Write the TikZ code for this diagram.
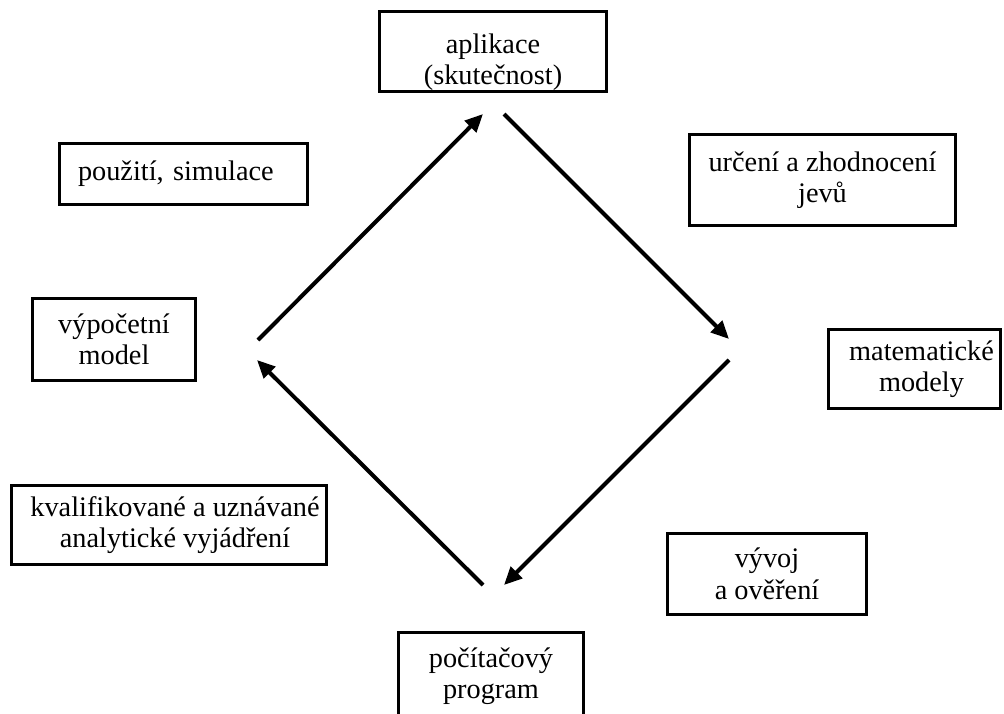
\documentclass[tikz,border=0pt]{standalone}
\usepackage{fontspec}
\setmainfont{Liberation Serif}
\usetikzlibrary{arrows.meta}
\begin{document}
\begin{tikzpicture}[x=1pt,y=-1pt,
  box/.style={draw=black, line width=3pt, fill=white, align=center,
    font=\fontsize{28.3}{31.5}\selectfont\frenchspacing, inner sep=0pt},
  arr/.style={line width=4pt, -{Triangle[length=18pt,width=16pt]}}]
\useasboundingbox (0,0) rectangle (1004,713);
\clip (0,0) rectangle (1004,713);
\fill[white] (0,0) rectangle (1004,713);

\node[box, minimum width=227pt, minimum height=80pt] (apl) at (493,51.5)
  {\raisebox{-11pt}[\height][\depth]{\begin{tabular}{@{}c@{}}aplikace\\(skutečnost)\end{tabular}}};
\node[box, minimum width=266pt, minimum height=91pt] (urc) at (822.5,180) {určení a zhodnocení\\jevů};
\node[box, minimum width=172pt, minimum height=79pt] (mat) at (914.5,369) {\hspace*{14pt}matematické\\\hspace*{14pt}modely};
\node[box, minimum width=199pt, minimum height=81pt] (vyv) at (767,574) {vývoj\\a ověření};
\node[box, minimum width=185pt, minimum height=88pt] (poc) at (491,676) {počítačový\\program};
\node[box, minimum width=163pt, minimum height=82pt] (vyp) at (114,339.5) {výpočetní\\model};
\node[box, align=left, text width=210pt, inner xsep=19pt, minimum height=61pt] (pou) at (183,174) {použití, simulace};
\node[box, minimum width=315pt, minimum height=79pt] (kva) at (169,525) {\hspace*{12pt}kvalifikované a uznávané\\\hspace*{12pt}analytické vyjádření};

\coordinate (L1) at (258,340);
\coordinate (T1) at (483,114);
\coordinate (T2) at (504,114);
\coordinate (R1) at (729,339);
\coordinate (R2) at (729,360);
\coordinate (B2) at (504,585);
\coordinate (B1) at (483,585);
\coordinate (L2) at (257,360);

\draw[arr] (L1) -- (T1);
\draw[arr] (T2) -- (R1);
\draw[arr] (R2) -- (B2);
\draw[arr] (B1) -- (L2);
\end{tikzpicture}
\end{document}
